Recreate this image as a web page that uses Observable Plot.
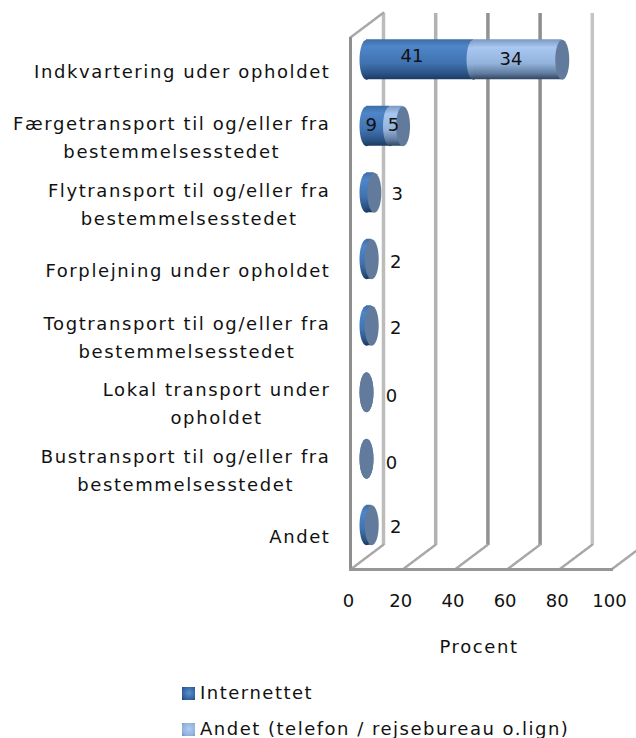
<!DOCTYPE html>
<html><head><meta charset="utf-8">
<script src="https://cdn.jsdelivr.net/npm/d3@7"></script>
<script src="https://cdn.jsdelivr.net/npm/@observablehq/plot@0.6"></script>
<style>
html,body{margin:0;padding:0;background:#fff;overflow:hidden}
#legend{font:18px "DejaVu Sans",sans-serif;letter-spacing:1.5px;color:#111;margin-left:182px;margin-top:3px}
#legend div{height:36px;line-height:36px;display:flex;align-items:center}
#legend i{display:inline-block;width:13px;height:13px;margin-right:5px}
</style></head><body>
<div id="chart"></div><div id="legend"></div>
<script>
const categories = ["Indkvartering uder opholdet","Færgetransport til og/eller fra\nbestemmelsesstedet","Flytransport til og/eller fra\nbestemmelsesstedet","Forplejning under opholdet","Togtransport til og/eller fra\nbestemmelsesstedet","Lokal transport under\nopholdet","Bustransport til og/eller fra\nbestemmelsesstedet","Andet"];
const internet = [41,9,3,2,2,0,0,2];
const andet = [34,5,0,0,0,0,0,0];
const seriesNames = ["Internettet","Andet (telefon / rejsebureau o.lign)"];
const xTicks = [0,20,40,60,80,100];
const rows = categories.map((c,i)=>({c, a:internet[i], b:andet[i], t:internet[i]+andet[i]}));

const FONT = '"DejaVu Sans",sans-serif';
const FS = 18, LS = 1.6;
const ctx2d = document.createElement("canvas").getContext("2d");
ctx2d.font = FS+'px "DejaVu Sans"';
const blockW = c => Math.max(...c.split("\n").map(l=>ctx2d.measureText(l).width + LS*l.length));
const spaced = (i,s,v,d,c,next)=>{const g=next(i,s,v,d,c); g.setAttribute("letter-spacing",LS); return g;};

const DX=16, DY=-11, RX=7, RY=20;
const ellipse = {draw(c){const k=0.5523;
  c.moveTo(-RX,0);
  c.bezierCurveTo(-RX,-RY*k,-RX*k,-RY,0,-RY);
  c.bezierCurveTo(RX*k,-RY,RX,-RY*k,RX,0);
  c.bezierCurveTo(RX,RY*k,RX*k,RY,0,RY);
  c.bezierCurveTo(-RX*k,RY,-RX,RY*k,-RX,0);
  c.closePath();
}};
const seg = {draw(c,l){c.moveTo(0,0);c.lineTo(0,-l);}};
const depthLen = 41, depthAngle = 53;
const defs = () => {
  const d = d3.create("svg:defs");
  d.html(`
  <linearGradient id="gBlue" x1="0" y1="0" x2="0" y2="1">
   <stop offset="0" stop-color="#3d6da8"/><stop offset=".18" stop-color="#4f86c9"/><stop offset=".6" stop-color="#3f72b0"/><stop offset=".85" stop-color="#2c5486"/><stop offset="1" stop-color="#1b3a63"/>
  </linearGradient>
  <linearGradient id="gLight" x1="0" y1="0" x2="0" y2="1">
   <stop offset="0" stop-color="#7a98c2"/><stop offset=".2" stop-color="#a9c8f1"/><stop offset=".6" stop-color="#93b3dc"/><stop offset=".85" stop-color="#617c9f"/><stop offset="1" stop-color="#2f4563"/>
  </linearGradient>`);
  return d.node();
};
const common = {y:"c", dx:DX, dy:DY};
const dotOpts = (x,fill) => ({...common, x, symbol:ellipse, r:3, fill, stroke:"none"});
const wallShade = {0:"#bcbcbc",20:"#b2b2b2",40:"#929292",60:"#8e8e8e",80:"#c4c4c4"};

const catMarks = categories.map(c=>Plot.text([c],{
  y:d=>d, text:d=>d, frameAnchor:"left", textAnchor:"middle",
  dx:-20-blockW(c)/2, dy:-2, lineHeight:28/FS, fontSize:FS, fill:"#111", fontFamily:FONT, render:spaced
}));
const val = (r,x,k,dx,dy)=>Plot.text([rows[r]],{y:"c",x,text:k,dx,dy,fontSize:FS,fill:"#111"});

const chart = Plot.plot({
  width:636, height:672, marginLeft:350, marginRight:25, marginTop:37, marginBottom:103,
  style:{background:"#fff",fontFamily:FONT,fontSize:FS+"px",color:"#111"},
  x:{domain:[0,100], axis:null},
  y:{domain:categories, axis:null, padding:0, round:false},
  marks:[
    defs,
    Plot.ruleX(xTicks.filter(d=>d<100),{x:d=>d,dx:33,dy:-24,stroke:d=>wallShade[d],strokeWidth:3.5}),
    Plot.vector(xTicks,{x:d=>d,frameAnchor:"bottom",anchor:"start",length:depthLen,rotate:depthAngle,shape:seg,stroke:"#a8a8a8",strokeWidth:2.5,strokeDasharray:"4 1",fill:"none"}),
    Plot.vector([0],{x:d=>d,frameAnchor:"top",anchor:"start",length:depthLen,rotate:depthAngle,shape:seg,stroke:"#a8a8a8",strokeWidth:2.5,strokeDasharray:"4 1",fill:"none"}),
    Plot.ruleX([0],{stroke:"#8f8f8f",strokeWidth:3}),
    Plot.frame({anchor:"bottom",stroke:"#979797",strokeWidth:3}),
    Plot.dot(rows,dotOpts(()=>0,"url(#gBlue)")),
    Plot.barX(rows,{...common,x1:()=>0,x2:"a",fill:"url(#gBlue)",insetTop:13.25,insetBottom:13.25}),
    Plot.dot(rows.filter(d=>d.b>0),dotOpts("a","url(#gLight)")),
    Plot.barX(rows.filter(d=>d.b>0),{...common,x1:"a",x2:"t",fill:"url(#gLight)",insetTop:13.25,insetBottom:13.25}),
    Plot.dot(rows,dotOpts("t","#627b9c")),
    val(0,d=>d.a/2,"a",8,-15),
    val(0,d=>d.a+d.b/2,"b",9,-12),
    val(1,d=>d.a/2,"a",9,-12),
    val(1,d=>d.a+d.b/2,"b",13,-12),
    val(2,"a","a",39,-10),
    val(3,"a","a",40,-8),
    val(4,"a","a",40,-9),
    val(5,"a","a",41,-7),
    val(6,"a","a",41,-7),
    val(7,"a","a",40,-9),
    ...catMarks,
    Plot.axisX(xTicks,{anchor:"bottom",tickSize:0,tickPadding:25,dx:-2,fontSize:FS,label:null,fill:"#111"}),
    Plot.text(["Procent"],{text:d=>d,frameAnchor:"bottom",dy:83,dx:-2,x:()=>50,fontSize:FS,fill:"#111",render:spaced})
  ]
});
document.getElementById("chart").appendChild(chart);
const swatches = ["radial-gradient(circle at 55% 45%,#5b90d0,#2f5f9b 70%,#1f3f6c)","radial-gradient(circle at 55% 45%,#b0cdf3,#8fb0da 70%,#6b88ad)"];
const lg = document.getElementById("legend");
seriesNames.forEach((n,i)=>{const r=document.createElement("div");const s=document.createElement("i");s.style.background=swatches[i];r.appendChild(s);r.appendChild(document.createTextNode(n));lg.appendChild(r);});
</script></body></html>
